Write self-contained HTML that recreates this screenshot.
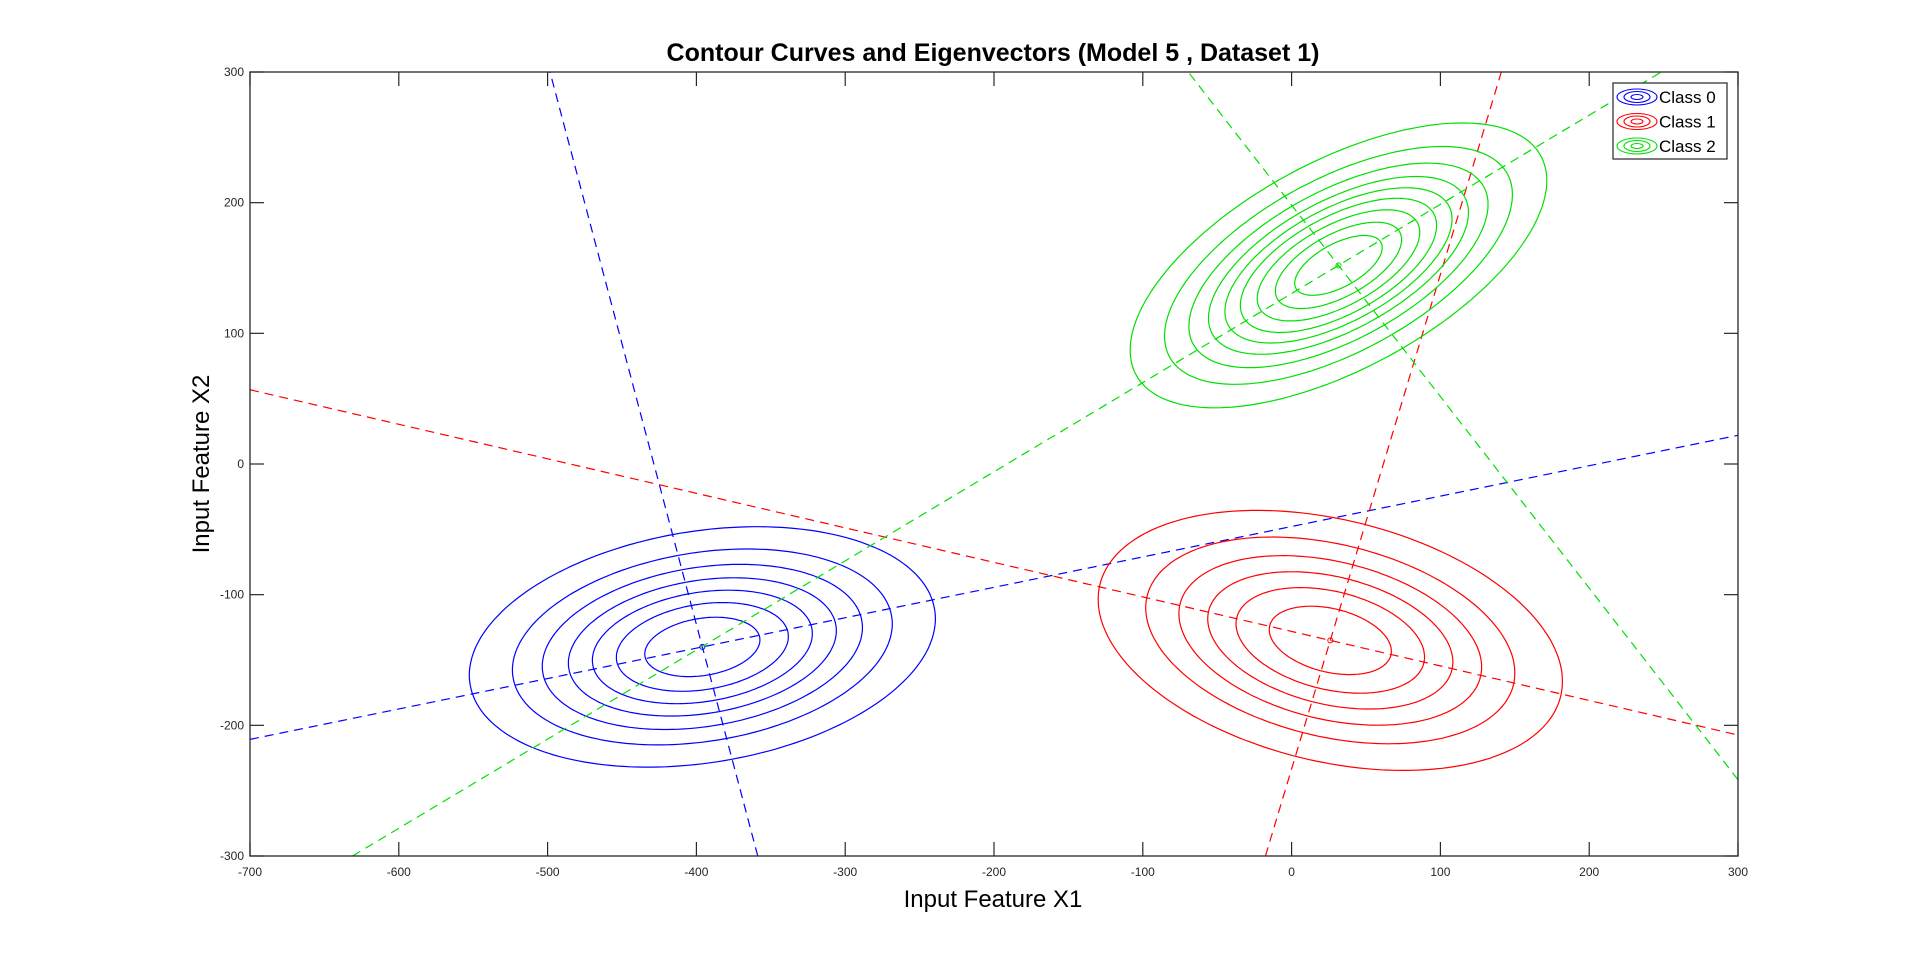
<!DOCTYPE html>
<html><head><meta charset="utf-8"><style>
html,body{margin:0;padding:0;background:#fff;overflow:hidden;}
svg{display:block;font-family:"Liberation Sans",Arial,sans-serif;}
</style></head><body>
<svg id="chart" width="1920" height="963" viewBox="0 0 1920 963">
<rect x="0" y="0" width="1920" height="963" fill="#fff"/>
<text x="993" y="61" text-anchor="middle" font-size="25" font-weight="bold">Contour Curves and Eigenvectors (Model 5 , Dataset 1)</text>
<text x="993" y="907" text-anchor="middle" font-size="24">Input Feature X1</text>
<text x="0" y="0" transform="translate(209,464) rotate(-90)" text-anchor="middle" font-size="24">Input Feature X2</text>
<g id="plot"></g>
<rect x="250" y="72" width="1488" height="784" fill="none" stroke="#262626" stroke-width="1.3"/>
<g id="ticks"></g>
<g id="legend">
<rect x="1613" y="83" width="114" height="76" fill="#fff" stroke="#262626" stroke-width="1.2"/>
</g>
</svg>
<script>
const xTicks=[-700,-600,-500,-400,-300,-200,-100,0,100,200,300];
const yTicks=[-300,-200,-100,0,100,200,300];
const classNames=['Class 0','Class 1','Class 2'];
const classColors=['#0000ff','#ff0000','#00e000'];
const centersX=[-396,26,31.5];
const centersY=[-140,-135,152];
const eigenAnglesDeg=[13.1,-14.8,34.3];
const outerSxx=[24524,24336,19600];
const outerSyy=[8464,9900,11881];
const outerSxy=[3380,-4890,9080];
const levels0=[1,0.815,0.687,0.575,0.472,0.369,0.247];
const levels1=[1,0.795,0.652,0.528,0.406,0.263];
const levels2=[1,0.835,0.718,0.624,0.545,0.471,0.39,0.303,0.21];
const levels=[levels0,levels1,levels2];

const X0=250,X1=1738,Y0=72,Y1=856;
const sx=v=>X0+(v+700)/1000*(X1-X0);
const sy=v=>Y1-(v+300)/600*(Y1-Y0);
const NS='http://www.w3.org/2000/svg';
const plot=document.getElementById('plot');
const ticks=document.getElementById('ticks');
const legend=document.getElementById('legend');
function mk(tag,attrs,parent){const e=document.createElementNS(NS,tag);for(const k in attrs)e.setAttribute(k,attrs[k]);parent.appendChild(e);return e;}
function clipLine(cx,cy,dx,dy){
  let t0=-1e9,t1=1e9;
  const lim=[[dx,cx,-700,300],[dy,cy,-300,300]];
  for(const [d,c,lo,hi] of lim){
    if(Math.abs(d)<1e-12) continue;
    let a=(lo-c)/d,b=(hi-c)/d; if(a>b){const t=a;a=b;b=t;}
    t0=Math.max(t0,a); t1=Math.min(t1,b);
  }
  return [cx+dx*t0,cy+dy*t0,cx+dx*t1,cy+dy*t1];
}

for(let c=0;c<3;c++){
  const cx=centersX[c], cy=centersY[c];
  const ax=Math.sqrt(outerSxx[c]);
  const k1=outerSxy[c]/ax;
  const k2=Math.sqrt(outerSyy[c]-outerSxy[c]*outerSxy[c]/outerSxx[c]);
  levels[c].forEach((s,i)=>{
    let d='';
    for(let k=0;k<=200;k++){
      const t=k/200*2*Math.PI;
      const x=cx+s*ax*Math.cos(t);
      const y=cy+s*(k1*Math.cos(t)+k2*Math.sin(t));
      d+=(k?'L':'M')+sx(x).toFixed(1)+' '+sy(y).toFixed(1);
    }
    const p=mk('path',{d:d+'Z',fill:'none',stroke:classColors[c],'stroke-width':1.2},plot);
    
    
  });
  const th=eigenAnglesDeg[c]*Math.PI/180, ux=Math.cos(th), uy=Math.sin(th);
  [[ux,uy],[-uy,ux]].forEach((v,j)=>{
    const e=clipLine(cx,cy,v[0],v[1]);
    const l=mk('line',{x1:sx(e[0]),y1:sy(e[1]),x2:sx(e[2]),y2:sy(e[3]),stroke:classColors[c],'stroke-width':1.2,'stroke-dasharray':'9 6'},plot);
    
    
  });
  const m=mk('circle',{cx:sx(cx),cy:sy(cy),r:2.5,fill:'none',stroke:classColors[c],'stroke-width':1},plot);
  
  
}

xTicks.forEach(v=>{
  const x=sx(v);
  const t1=mk('line',{x1:x,y1:Y1,x2:x,y2:Y1-14,stroke:'#262626','stroke-width':1.2},ticks);
  
  
  const t2=mk('line',{x1:x,y1:Y0,x2:x,y2:Y0+14,stroke:'#262626','stroke-width':1.2},ticks);
  
  
  const tx=mk('text',{x:x,y:Y1+20,'text-anchor':'middle','font-size':12,fill:'#262626'},ticks);
  tx.textContent=v;
  
  
});
yTicks.forEach(v=>{
  const y=sy(v);
  const t1=mk('line',{x1:X0,y1:y,x2:X0+14,y2:y,stroke:'#262626','stroke-width':1.2},ticks);
  
  
  const t2=mk('line',{x1:X1,y1:y,x2:X1-14,y2:y,stroke:'#262626','stroke-width':1.2},ticks);
  
  
  const tx=mk('text',{x:X0-6,y:y+4,'text-anchor':'end','font-size':12,fill:'#262626'},ticks);
  tx.textContent=v;
  
  
});
classNames.forEach((n,i)=>{
  const y=97+i*24.5;
  const g=mk('g',{},legend);
  
  
  [[20,8],[13,5.5],[6,2.5]].forEach(r=>mk('ellipse',{cx:1637,cy:y,rx:r[0],ry:r[1],fill:'none',stroke:classColors[i],'stroke-width':1.1},g));
  const t=mk('text',{x:1659,y:y+6,'font-size':17,fill:'#000'},g);
  t.textContent=n;
});
</script>
</body></html>
